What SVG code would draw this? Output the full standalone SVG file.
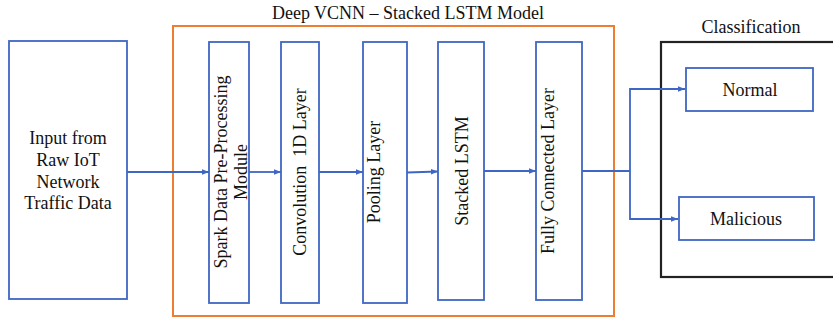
<svg xmlns="http://www.w3.org/2000/svg" width="833" height="322" viewBox="0 0 833 322" font-family="'Liberation Serif', 'Times New Roman', serif">
<style>
text{font-family:'Liberation Serif','Times New Roman',serif;font-size:18px;fill:#111;}
.b{fill:#fff;stroke:#3f66c4;stroke-width:1.8;}
.c{fill:none;stroke:#3f66c4;stroke-width:1.8;}
.m{text-anchor:middle;}
</style>
<defs>
<marker id="ah" viewBox="0 0 8 8" refX="8" refY="4" markerWidth="7" markerHeight="7" markerUnits="userSpaceOnUse" orient="auto">
<path d="M0,0.8 L8,4 L0,7.2 Z" fill="#3f66c4"/>
</marker>
</defs>
<rect width="833" height="322" fill="#fff"/>
<g id="model">
<rect x="173" y="26" width="441" height="290" fill="none" stroke="#ed7d31" stroke-width="2"/>
<text class="m" x="408" y="19">Deep VCNN – Stacked LSTM Model</text>
</g>
<g id="classification">
<rect x="661" y="42" width="180" height="235" fill="none" stroke="#222" stroke-width="2.2"/>
<text class="m" x="751" y="33">Classification</text>
</g>
<g id="input">
<rect class="b" x="9" y="41" width="118" height="258"/>
<text class="m" x="68" y="144">Input from</text>
<text class="m" x="68" y="166">Raw IoT</text>
<text class="m" x="68" y="188">Network</text>
<text class="m" x="68" y="209">Traffic Data</text>
</g>
<g id="spark">
<rect class="b" x="209" y="42" width="40" height="261"/>
<text class="m" transform="translate(227,172) rotate(-90)">Spark Data Pre-Processing</text>
<text class="m" transform="translate(247,172) rotate(-90)">Module</text>
</g>
<g id="conv">
<rect class="b" x="281" y="42" width="38" height="261"/>
<text class="m" transform="translate(306,172) rotate(-90)" xml:space="preserve">Convolution  1D Layer</text>
</g>
<g id="pooling">
<rect class="b" x="363" y="42" width="44" height="261"/>
<text class="m" transform="translate(380,172) rotate(-90)">Pooling Layer</text>
</g>
<g id="lstm">
<rect class="b" x="438" y="42" width="46" height="258"/>
<text class="m" transform="translate(468,171) rotate(-90)">Stacked LSTM</text>
</g>
<g id="fc">
<rect class="b" x="536" y="42" width="46" height="258"/>
<text class="m" transform="translate(554,171) rotate(-90)">Fully Connected Layer</text>
</g>
<g id="normal">
<rect class="b" x="686" y="68" width="127" height="43"/>
<text class="m" x="750" y="96">Normal</text>
</g>
<g id="malicious">
<rect class="b" x="679" y="197" width="135" height="43"/>
<text class="m" x="746" y="225">Malicious</text>
</g>
<g id="connectors">
<line class="c" x1="127" y1="172" x2="209" y2="172" marker-end="url(#ah)"/>
<line class="c" x1="249" y1="172" x2="281" y2="172" marker-end="url(#ah)"/>
<line class="c" x1="319" y1="172" x2="363" y2="172" marker-end="url(#ah)"/>
<line class="c" x1="407" y1="172.5" x2="438" y2="171.5" marker-end="url(#ah)"/>
<line class="c" x1="484" y1="171" x2="536" y2="171" marker-end="url(#ah)"/>
<polyline class="c" points="582,171 630,171"/>
<polyline class="c" points="630,171 630,89 685,89" marker-end="url(#ah)"/>
<polyline class="c" points="630,171 630,219 678,219" marker-end="url(#ah)"/>
</g>
</svg>
